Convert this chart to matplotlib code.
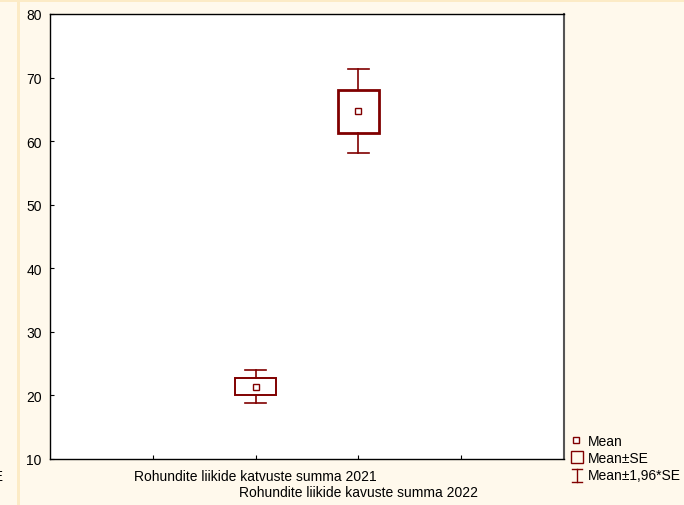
import matplotlib
matplotlib.use("Agg")
import matplotlib.pyplot as plt
from matplotlib.patches import Rectangle
import numpy as np

plt.rcParams['font.family'] = ['Liberation Sans', 'DejaVu Sans']

# Summary statistics for the two variables
categories = ["Rohundite liikide katvuste summa 2021",
              "Rohundite liikide kavuste summa 2022"]
means = [21.4, 64.7]
se = [1.35, 3.38]
positions = [2, 3]

y_ticks = [10, 20, 30, 40, 50, 60, 70, 80]
x_ticks = [1, 2, 3, 4]

W, H = 684, 506
DARK_RED = '#800000'
BG = '#FFF9EC'
STRIPE = '#FCEBC6'
FS = 10

fig = plt.figure(figsize=(W / 100, H / 100), dpi=100, facecolor=BG)

# decorative page strips
fig.patches.append(Rectangle((0, 1 - 3 / H), 1, 3 / H, transform=fig.transFigure,
                             facecolor=STRIPE, edgecolor='none', zorder=0))
fig.patches.append(Rectangle((17 / W, 0), 2.5 / W, 1, transform=fig.transFigure,
                             facecolor=STRIPE, edgecolor='none', zorder=0))

left, right, top, bottom = 50, 564, 15, 460
ax = fig.add_axes([left / W, 1 - bottom / H, (right - left) / W, (bottom - top) / H])
ax.set_facecolor('white')
ax.set_xlim(0, 5)
ax.set_ylim(10, 80)
ax.set_yticks(y_ticks)
ax.set_xticks(x_ticks)
ax.set_xticklabels([])
ax.tick_params(axis='both', direction='in', length=3, width=0.8, color='black',
               labelsize=FS, pad=6)
for s in ax.spines.values():
    s.set_color('black')
    s.set_linewidth(1.0)
ax.spines['right'].set_color('#555555')
ax.spines['right'].set_linewidth(1.5)

box_w = 0.4
cap_w = 0.2
for x, m, s, lw in zip(positions, means, se, [1.4, 2.0]):
    lo, hi = m - s, m + s
    wlo, whi = m - 1.96 * s, m + 1.96 * s
    ax.add_patch(Rectangle((x - box_w / 2, lo), box_w, hi - lo, facecolor='none',
                           edgecolor=DARK_RED, linewidth=lw, zorder=3))
    ax.plot([x, x], [hi, whi], color=DARK_RED, lw=1.2, zorder=2)
    ax.plot([x, x], [lo, wlo], color=DARK_RED, lw=1.2, zorder=2)
    ax.plot([x - cap_w / 2, x + cap_w / 2], [whi, whi], color=DARK_RED, lw=1.2, zorder=2)
    ax.plot([x - cap_w / 2, x + cap_w / 2], [wlo, wlo], color=DARK_RED, lw=1.2, zorder=2)
    ax.plot([x], [m], marker='s', markersize=5, mfc='white', mec=DARK_RED,
            mew=1.0, zorder=4)

# staggered category labels
trans = ax.get_xaxis_transform()
label_rows_px = [477, 493]
for x, lab, ypx in zip(positions, categories, label_rows_px):
    ax.text(x, -(ypx - bottom) / (bottom - top), lab, transform=trans,
            ha='center', va='center', fontsize=FS, clip_on=False)

# legend drawn in pixel coordinates
lg = fig.add_axes([0, 0, 1, 1], facecolor='none')
lg.set_xlim(0, W)
lg.set_ylim(H, 0)
lg.axis('off')
lg.plot([576], [441], marker='s', markersize=4.5, mfc='white', mec=DARK_RED, mew=1.0)
lg.add_patch(Rectangle((571, 452), 12, 12, facecolor='none', edgecolor=DARK_RED, lw=1.0))
lg.plot([577, 577], [470, 483], color=DARK_RED, lw=1.0)
lg.plot([572, 582], [470, 470], color=DARK_RED, lw=1.0)
lg.plot([572, 582], [483, 483], color=DARK_RED, lw=1.0)
for ypx, t in zip([442, 459, 476], ["Mean", "Mean±SE", "Mean±1,96*SE"]):
    lg.text(588, ypx, t, ha='left', va='center', fontsize=FS)

# partially visible legend entry at the left edge
lg.text(4, 477, "Mean±1,96*SE", ha='right', va='center', fontsize=FS, clip_on=False)

fig.savefig("out.png", dpi=100, facecolor=BG)
